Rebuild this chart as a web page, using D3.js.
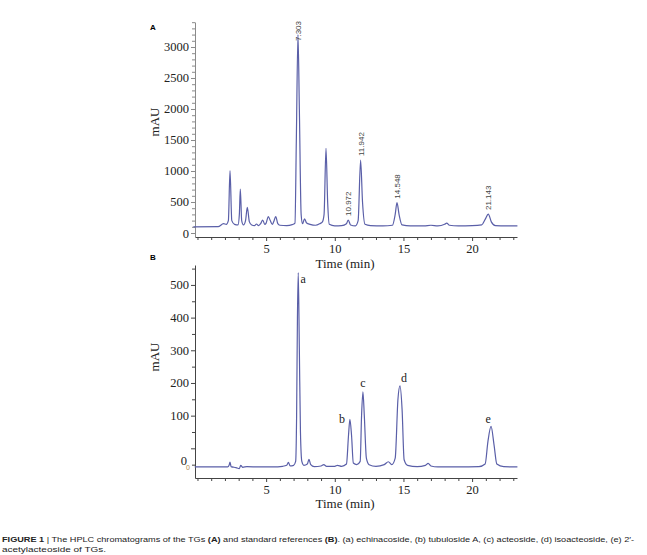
<!DOCTYPE html>
<html lang="en">
<head>
<meta charset="UTF-8">
<title>HPLC chromatograms</title>
<script src="https://d3js.org/d3.v7.min.js"></script>
<style>
  body { margin: 0; background: #fff; }
  svg { display: block; }
  .tick-label { font-family: "Liberation Serif", "DejaVu Serif", serif; font-size: 12.5px; fill: #222; }
</style>
</head>
<body>
<svg id="fig" width="647" height="555"></svg>
<script>
// ---- data: [time (min), mAU] ----
var traceA = [[-0.3,100],[1.5,102],[1.9,150],[2.1,140],[2.25,200],[2.37,1005],[2.5,200],[2.7,140],
  [2.95,130],[3.05,300],[3.12,710],[3.22,200],[3.35,130],[3.5,200],[3.63,415],[3.78,180],[3.95,130],
  [4.15,120],[4.3,145],[4.45,120],[4.6,150],[4.75,210],[4.9,140],[5.0,160],[5.16,265],[5.3,200],
  [5.45,140],[5.55,180],[5.7,265],[5.85,150],[6.0,125],[6.5,120],[6.9,135],[7.1,160],[7.2,1500],
  [7.32,3200],[7.42,2000],[7.55,300],[7.65,150],[7.8,230],[7.95,160],[8.2,140],[8.6,125],[8.9,150],
  [9.1,180],[9.22,300],[9.36,1366],[9.48,500],[9.6,140],[10.0,115],[10.5,118],[10.85,150],[10.98,210],
  [11.15,130],[11.5,115],[11.7,200],[11.88,1177],[12.02,500],[12.2,140],[12.6,120],[13.5,115],
  [14.2,125],[14.4,300],[14.53,489],[14.68,300],[14.9,130],[15.5,115],[16.5,115],[17,125],[17.5,115],
  [18.0,140],[18.15,160],[18.35,125],[19.0,115],[20.0,118],[20.7,130],[20.95,220],[21.18,306],
  [21.4,180],[21.7,120],[22.5,115],[23.3,115]];

var peakLabelsA = [
  {t: 7.32, v: 3200, label: "7.303"},
  {t: 10.98, v: 210, label: "10.972"},
  {t: 11.88, v: 1177, label: "11.942"},
  {t: 14.53, v: 489, label: "14.548"},
  {t: 21.18, v: 306, label: "21.143"}
];

var traceB = [[-0.2,-57],[2.2,-57],[2.3,-52],[2.37,-42],[2.45,-56],[2.8,-59],[3.05,-62],[3.15,-52],
  [3.3,-58],[3.6,-56],[4.5,-57],[5.5,-57],[6.2,-55],[6.5,-52],[6.62,-43],[6.75,-54],[7.0,-52],
  [7.15,-40],[7.22,100],[7.28,400],[7.34,538],[7.42,300],[7.5,50],[7.6,-40],[7.75,-52],[8.0,-48],
  [8.12,-34],[8.25,-50],[8.5,-56],[9.0,-54],[9.2,-50],[9.4,-55],[10.0,-55],[10.2,-52],[10.5,-55],
  [10.85,-48],[11.0,40],[11.1,89],[11.22,40],[11.35,-45],[11.6,-50],[11.85,-40],[11.95,100],
  [12.05,173],[12.15,100],[12.3,-30],[12.5,-50],[13.0,-55],[13.6,-50],[13.9,-41],[14.15,-50],
  [14.4,-30],[14.6,150],[14.75,191],[14.9,120],[15.05,-35],[15.3,-52],[16.0,-56],[16.6,-52],
  [16.8,-46],[17.0,-54],[17.5,-57],[19,-57],[20.5,-56],[20.95,-48],[21.15,20],[21.38,67],
  [21.6,10],[21.8,-48],[22.3,-56],[23.3,-57]];

var peakLettersB = [
  {t: 7.34, v: 538, letter: "a"},
  {t: 11.1, v: 89, letter: "b"},
  {t: 12.05, v: 173, letter: "c"},
  {t: 14.75, v: 191, letter: "d"},
  {t: 21.38, v: 67, letter: "e"}
];
var baselineB = -57;

var xTicks = [5, 10, 15, 20];
var xMinor = d3.range(0, 24, 1);
var yTicksA = [0, 500, 1000, 1500, 2000, 2500, 3000];
var yMinorA = d3.range(0, 3450, 100);
var yTicksB = [0, 100, 200, 300, 400, 500];
var yMinorB = d3.range(-50, 600, 50);

// ---- drawing ----
var svg = d3.select("#fig");
var lineColor = "#5a5fa8";

var panels = [
  {key: "A", trace: traceA, top: 22, bottom: 237, yDomain: [-64.5, 3403], yTicks: yTicksA, yMinor: yMinorA,
   yAxisColor: "#8a8a8a", xAxisColor: "#444", titleY: 268, letterY: 30, mauY: 122},
  {key: "B", trace: traceB, top: 265, bottom: 478, yDomain: [-90.8, 561], yTicks: yTicksB, yMinor: yMinorB,
   yAxisColor: "#444", xAxisColor: "#444", titleY: 508, letterY: 260, mauY: 357}
];

var left = 195, right = 517;
var x = d3.scaleLinear().domain([-0.18, 23.27]).range([left, right]);

panels.forEach(function(p) {
  var y = d3.scaleLinear().domain(p.yDomain).range([p.bottom, p.top]);
  p.y = y;
  var g = svg.append("g");

  // minor ticks (x)
  g.append("g")
    .attr("transform", "translate(0," + p.bottom + ")")
    .call(d3.axisBottom(x).tickValues(xMinor.filter(function(d) { return xTicks.indexOf(d) < 0; }))
      .tickSize(3).tickFormat(""))
    .call(function(s) { s.select(".domain").remove(); s.selectAll("line").attr("stroke", p.xAxisColor); });

  // major x axis
  var gx = g.append("g")
    .attr("transform", "translate(0," + p.bottom + ")")
    .call(d3.axisBottom(x).tickValues(xTicks).tickSize(4).tickSizeOuter(0).tickPadding(3));
  gx.select(".domain").attr("stroke", p.xAxisColor);
  gx.selectAll("line").attr("stroke", p.xAxisColor);
  gx.selectAll("text").attr("class", "tick-label");

  // minor ticks (y)
  g.append("g")
    .attr("transform", "translate(" + left + ",0)")
    .call(d3.axisLeft(y).tickValues(p.yMinor.filter(function(d) { return p.yTicks.indexOf(d) < 0; }))
      .tickSize(3).tickFormat(""))
    .call(function(s) { s.select(".domain").remove(); s.selectAll("line").attr("stroke", p.yAxisColor); });

  // major y axis
  var gy = g.append("g")
    .attr("class", "y-major")
    .attr("transform", "translate(" + left + ",0)")
    .call(d3.axisLeft(y).tickValues(p.yTicks).tickSize(4).tickSizeOuter(0).tickPadding(2)
      .tickFormat(d3.format("d")));
  gy.select(".domain").attr("stroke", p.yAxisColor);
  gy.selectAll("line").attr("stroke", p.yAxisColor);
  gy.selectAll("text").attr("class", "tick-label");
  p.gy = gy;

  // axis titles
  g.append("text")
    .attr("class", "tick-label")
    .attr("x", (left + right) / 2 - 11)
    .attr("y", p.titleY)
    .attr("text-anchor", "middle")
    .style("font-size", "13px")
    .text("Time (min)");

  g.append("text")
    .attr("class", "tick-label")
    .attr("transform", "translate(159," + p.mauY + ") rotate(-90)")
    .attr("text-anchor", "middle")
    .style("font-size", "13px")
    .text("mAU");

  // panel letter
  g.append("text")
    .attr("x", 150)
    .attr("y", p.letterY)
    .style("font-family", "Liberation Sans, Arial, sans-serif")
    .style("font-weight", "bold")
    .style("font-size", "8px")
    .text(p.key);

  // chromatogram
  var line = d3.line()
    .x(function(d) { return x(d[0]); })
    .y(function(d) { return y(d[1]); })
    .curve(d3.curveMonotoneX);

  g.append("path")
    .datum(p.trace)
    .attr("d", line)
    .attr("fill", "none")
    .attr("stroke", lineColor)
    .attr("stroke-width", 1.2);
});

var yA = panels[0].y;
var yB = panels[1].y;

// peak retention labels (panel A)
svg.append("g").selectAll("text")
  .data(peakLabelsA)
  .join("text")
  .attr("transform", function(d) {
    var sy = Math.max(yA(d.v) - 4, 41);
    return "translate(" + (x(d.t) + 3) + "," + sy + ") rotate(-90)";
  })
  .style("font-family", "Liberation Sans, Arial, sans-serif")
  .style("font-size", "8px")
  .style("fill", "#444")
  .text(function(d) { return d.label; });

// peak letters (panel B)
var letterOffset = {a: [5, 10], b: [-8, 4], c: [0, -5], d: [4, -4], e: [-3, -3]};
svg.append("g").selectAll("text")
  .data(peakLettersB)
  .join("text")
  .attr("x", function(d) { return x(d.t) + letterOffset[d.letter][0]; })
  .attr("y", function(d) { return yB(d.v) + letterOffset[d.letter][1]; })
  .attr("text-anchor", "middle")
  .attr("class", "tick-label")
  .style("font-size", "12px")
  .text(function(d) { return d.letter; });

// panel B: the "0" label sits a bit below its tick in the original
panels[1].gy.selectAll(".tick")
  .filter(function(d) { return d === 0; })
  .select("text")
  .attr("y", 12)
  .attr("x", -8);

// small baseline marker of panel B
svg.append("text")
  .attr("x", 190)
  .attr("y", yB(baselineB) + 3)
  .attr("text-anchor", "end")
  .style("font-family", "Liberation Sans, Arial, sans-serif")
  .style("font-size", "7px")
  .style("fill", "#b0884a")
  .text("0");

// caption
var cap1 = svg.append("text")
  .attr("x", 2).attr("y", 542)
  .attr("textLength", 632).attr("lengthAdjust", "spacingAndGlyphs")
  .style("font-family", "Liberation Sans, Arial, sans-serif")
  .style("font-size", "8px")
  .style("fill", "#222");
[["FIGURE 1", true], [" | The HPLC chromatograms of the TGs ", false], ["(A)", true],
 [" and standard references ", false], ["(B)", true],
 [". (a) echinacoside, (b) tubuloside A, (c) acteoside, (d) isoacteoside, (e) 2\u2032-", false]
].forEach(function(s) {
  cap1.append("tspan").style("font-weight", s[1] ? "bold" : "normal").text(s[0]);
});
svg.append("text")
  .attr("x", 2).attr("y", 552)
  .style("font-family", "Liberation Sans, Arial, sans-serif")
  .style("font-size", "8px")
  .attr("textLength", 104).attr("lengthAdjust", "spacingAndGlyphs")
  .style("fill", "#222")
  .text("acetylacteoside of TGs.");
</script>
</body>
</html>
